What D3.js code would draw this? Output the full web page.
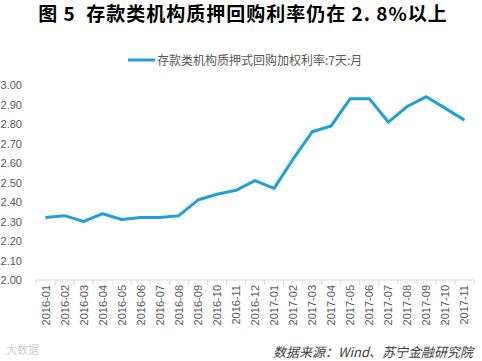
<!DOCTYPE html>
<html>
<head>
<meta charset="utf-8">
<script src="https://cdn.jsdelivr.net/npm/d3@7"></script>
<style>
  body { margin: 0; background: #fff; }
  svg { display: block; font-family: "Noto Sans CJK SC", "Liberation Sans", sans-serif; }
</style>
</head>
<body>
<div id="chart"></div>
<script>
var months = ["2016-01", "2016-02", "2016-03", "2016-04", "2016-05", "2016-06", "2016-07", "2016-08",
  "2016-09", "2016-10", "2016-11", "2016-12", "2017-01", "2017-02", "2017-03", "2017-04", "2017-05",
  "2017-06", "2017-07", "2017-08", "2017-09", "2017-10", "2017-11"];
var rates = [2.32, 2.33, 2.30, 2.34, 2.31, 2.32, 2.32, 2.33, 2.41, 2.44, 2.46, 2.51, 2.47, 2.62,
  2.76, 2.79, 2.93, 2.93, 2.81, 2.89, 2.94, 2.88, 2.82];
var yTicks = [2.0, 2.1, 2.2, 2.3, 2.4, 2.5, 2.6, 2.7, 2.8, 2.9, 3.0];
var seriesName = "存款类机构质押式回购加权利率:7天:月";

var W = 482, H = 361,
  plotLeft = 36, plotRight = 474, plotTop = 85, plotBottom = 280;

var svg = d3.select("#chart").append("svg")
  .attr("width", W)
  .attr("height", H);

var x = d3.scaleBand().domain(months).range([plotLeft, plotRight]);
var y = d3.scaleLinear().domain([2, 3]).range([plotBottom, plotTop]);

// title
svg.append("text")
  .attr("x", 243).attr("y", 21)
  .attr("text-anchor", "middle")
  .attr("xml:space", "preserve")
  .style("white-space", "pre")
  .style("font-size", "19px").style("font-weight", "bold").style("fill", "#000")
  .style("letter-spacing", "1px")
  .text("图 5  存款类机构质押回购利率仍在 2. 8%以上");

// legend
svg.append("line")
  .attr("x1", 128).attr("x2", 155).attr("y1", 60).attr("y2", 60)
  .style("stroke", "#1fa0dc").style("stroke-width", 3);
svg.append("text")
  .attr("x", 157).attr("y", 64.5)
  .style("font-size", "12px").style("fill", "#595959")
  .text(seriesName);

// y axis labels
svg.append("g")
  .attr("transform", "translate(" + (plotLeft - 11) + ",0)")
  .call(d3.axisLeft(y).tickValues(yTicks).tickFormat(d3.format(".2f")).tickSize(0))
  .call(function (g) { g.select(".domain").remove(); })
  .selectAll("text")
  .style("font-size", "11px").style("fill", "#595959")
  .style("font-family", "'Liberation Sans', sans-serif");

// x axis
var xg = svg.append("g")
  .attr("transform", "translate(0," + plotBottom + ")");
xg.append("line")
  .attr("x1", plotLeft).attr("x2", plotRight)
  .style("stroke", "#d9d9d9");
xg.selectAll("line.tick")
  .data(months.concat([null]))
  .enter().append("line")
  .attr("class", "tick")
  .attr("x1", function (d, i) { return plotLeft + i * x.step(); })
  .attr("x2", function (d, i) { return plotLeft + i * x.step(); })
  .attr("y1", 0).attr("y2", 5)
  .style("stroke", "#d9d9d9");
xg.selectAll("text")
  .data(months)
  .enter().append("text")
  .attr("transform", function (d) {
    return "translate(" + (x(d) + x.bandwidth() / 2 + 4) + ",5) rotate(-90)";
  })
  .attr("text-anchor", "end")
  .style("font-size", "11px").style("fill", "#595959")
  .style("font-family", "'Liberation Sans', sans-serif")
  .text(function (d) { return d; });

// series line
var line = d3.line()
  .x(function (d, i) { return x(months[i]) + x.bandwidth() / 2; })
  .y(function (d) { return y(d); });
svg.append("path")
  .datum(rates)
  .attr("d", line)
  .style("fill", "none")
  .style("stroke", "#1fa0dc")
  .style("stroke-width", 3)
  .style("stroke-linejoin", "round");

// source
svg.append("text")
  .attr("x", 473).attr("y", 357)
  .attr("text-anchor", "end")
  .style("font-size", "13px").style("font-style", "italic").style("fill", "#404040")
  .text("数据来源：Wind、苏宁金融研究院");

// watermark
svg.append("text")
  .attr("x", 6).attr("y", 354)
  .style("font-size", "11px").style("fill", "#d0d0d0")
  .text("大数据");
</script>
</body>
</html>
